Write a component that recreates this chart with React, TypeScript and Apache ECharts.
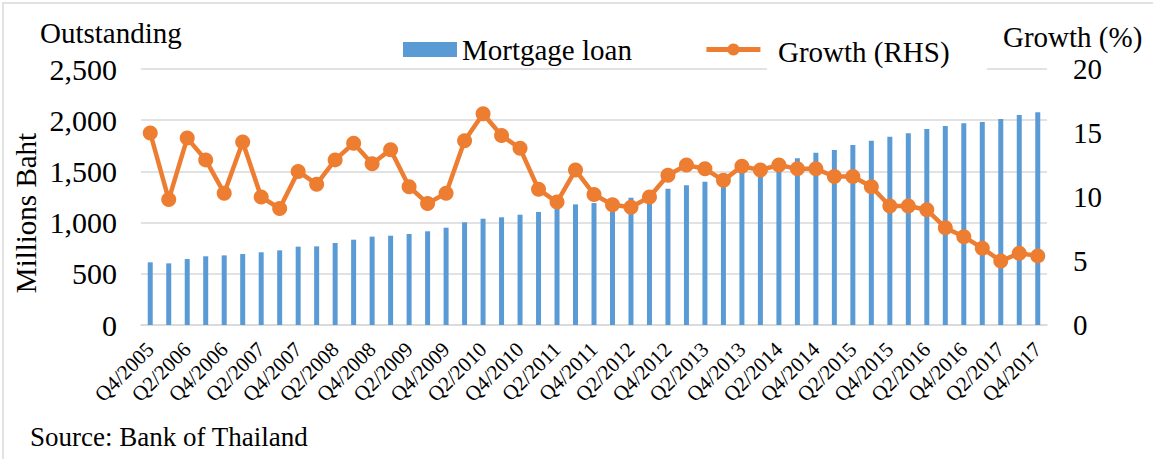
import React, { useEffect, useRef } from "react";
import * as echarts from "echarts";

const categories = [
  "Q4/2005", "Q1/2006", "Q2/2006", "Q3/2006", "Q4/2006", "Q1/2007", "Q2/2007", "Q3/2007", "Q4/2007",
  "Q1/2008", "Q2/2008", "Q3/2008", "Q4/2008", "Q1/2009", "Q2/2009", "Q3/2009", "Q4/2009",
  "Q1/2010", "Q2/2010", "Q3/2010", "Q4/2010", "Q1/2011", "Q2/2011", "Q3/2011", "Q4/2011",
  "Q1/2012", "Q2/2012", "Q3/2012", "Q4/2012", "Q1/2013", "Q2/2013", "Q3/2013", "Q4/2013",
  "Q1/2014", "Q2/2014", "Q3/2014", "Q4/2014", "Q1/2015", "Q2/2015", "Q3/2015", "Q4/2015",
  "Q1/2016", "Q2/2016", "Q3/2016", "Q4/2016", "Q1/2017", "Q2/2017", "Q3/2017", "Q4/2017",
];

const mortgageLoan = [
  612, 602, 644, 671, 680, 693, 710, 729, 765, 768,
  801, 833, 863, 872, 889, 915, 950, 1003, 1038, 1052,
  1077, 1104, 1140, 1178, 1191, 1215, 1243, 1290, 1331, 1364,
  1400, 1440, 1497, 1530, 1580, 1628, 1683, 1709, 1758, 1800,
  1839, 1872, 1914, 1943, 1970, 1982, 2012, 2051, 2077,
];

const growth = [
  15.0, 9.8, 14.6, 12.9, 10.3, 14.3, 10.0, 9.1, 12.0, 11.0,
  12.9, 14.2, 12.6, 13.7, 10.8, 9.5, 10.3, 14.4, 16.5, 14.8,
  13.8, 10.6, 9.6, 12.1, 10.2, 9.4, 9.2, 10.0, 11.7, 12.5,
  12.2, 11.3, 12.4, 12.1, 12.5, 12.2, 12.2, 11.6, 11.6, 10.8,
  9.3, 9.3, 9.0, 7.6, 6.9, 6.0, 5.0, 5.6, 5.4,
];

const FONT = "Liberation Serif";
const BLUE = "#5b9bd5";
const ORANGE = "#ed7d31";
const GRID = "#d9d9d9";

export default function App() {
  const ref = useRef<HTMLDivElement>(null);
  useEffect(() => {
    if (!ref.current) return;
    const chart = echarts.init(ref.current, null, { renderer: "svg" });
    chart.setOption({
      animation: false,
      backgroundColor: "#ffffff",
      textStyle: { fontFamily: FONT, color: "#000" },
      grid: { left: 141, right: 106, top: 69, bottom: 134, containLabel: false },
      legend: {
        left: 398,
        top: 30,
        itemWidth: 54,
        itemHeight: 15,
        itemGap: 72,
        textStyle: { fontFamily: FONT, fontSize: 29, color: "#000" },
        formatter: (name: string) => (name === "Growth (RHS)" ? "" : name),
        data: [
          { name: "Mortgage loan", icon: "rect" },
          {
            name: "Growth (RHS)",
            lineStyle: { width: 5, color: ORANGE },
            itemStyle: { color: ORANGE },
          },
        ],
      },
      xAxis: {
        type: "category",
        data: categories,
        axisTick: { show: false },
        axisLine: { lineStyle: { color: GRID, width: 1.5 } },
        axisLabel: {
          interval: 1,
          rotate: 45,
          margin: 21,
          fontFamily: FONT,
          fontSize: 21,
          color: "#000",
        },
      },
      yAxis: [
        {
          type: "value",
          min: 0,
          max: 2500,
          interval: 500,
          axisLine: { show: false },
          axisTick: { show: false },
          splitLine: { lineStyle: { color: GRID, width: 1.5 } },
          axisLabel: {
            margin: 24,
            fontFamily: FONT,
            fontSize: 30,
            color: "#000",
            formatter: (v: number) => v.toLocaleString("en-US"),
          },
        },
        {
          type: "value",
          min: 0,
          max: 20,
          interval: 5,
          axisLine: { show: false },
          axisTick: { show: false },
          splitLine: { show: false },
          axisLabel: {
            margin: 26,
            fontFamily: FONT,
            fontSize: 29,
            color: "#000",
          },
        },
      ],
      series: [
        {
          name: "Mortgage loan",
          type: "bar",
          data: mortgageLoan,
          barWidth: 5,
          itemStyle: { color: BLUE },
        },
        {
          name: "Growth (RHS)",
          type: "line",
          yAxisIndex: 1,
          data: growth,
          symbol: "circle",
          symbolSize: 15,
          showAllSymbol: true,
          lineStyle: { color: ORANGE, width: 4.5 },
          itemStyle: { color: ORANGE },
          z: 5,
        },
      ],
      graphic: [
        {
          type: "rect",
          z: 100,
          shape: { x: 3, y: 3, width: 1400, height: 800 },
          style: { fill: "none", stroke: GRID, lineWidth: 1.5 },
        },
        {
          type: "rect",
          z: 100,
          shape: { x: 767, y: 24, width: 220, height: 48 },
          style: { fill: "#ffffff" },
        },
        {
          type: "text",
          z: 101,
          x: 778,
          y: 52,
          style: {
            text: "Growth (RHS)",
            fontFamily: FONT,
            fontSize: 29,
            fill: "#000",
            textAlign: "left",
            textVerticalAlign: "middle",
          },
        },
        {
          type: "text",
          z: 101,
          x: 40,
          y: 33,
          style: {
            text: "Outstanding",
            fontFamily: FONT,
            fontSize: 29,
            fill: "#000",
            textAlign: "left",
            textVerticalAlign: "middle",
          },
        },
        {
          type: "text",
          z: 101,
          x: 1003,
          y: 37,
          style: {
            text: "Growth (%)",
            fontFamily: FONT,
            fontSize: 29,
            fill: "#000",
            textAlign: "left",
            textVerticalAlign: "middle",
          },
        },
        {
          type: "text",
          z: 101,
          x: 26,
          y: 213,
          rotation: Math.PI / 2,
          style: {
            text: "Millions Baht",
            fontFamily: FONT,
            fontSize: 29,
            fill: "#000",
            textAlign: "center",
            textVerticalAlign: "middle",
          },
        },
        {
          type: "text",
          z: 101,
          x: 30,
          y: 437,
          style: {
            text: "Source: Bank of Thailand",
            fontFamily: FONT,
            fontSize: 27,
            fill: "#000",
            textAlign: "left",
            textVerticalAlign: "middle",
          },
        },
      ],
    });
    return () => chart.dispose();
  }, []);
  return (
    <div
      ref={ref}
      style={{ position: "fixed", left: 0, top: 0, width: 1153, height: 459 }}
    />
  );
}
